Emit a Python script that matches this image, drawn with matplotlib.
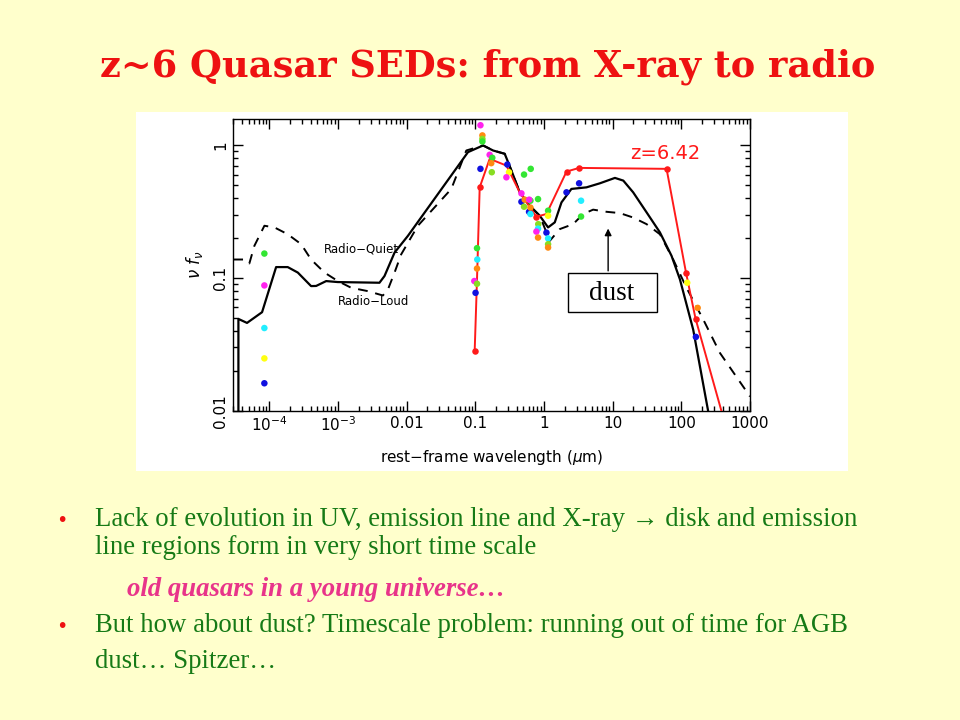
import numpy as np
import matplotlib.pyplot as plt
from matplotlib.patches import Rectangle
from matplotlib.ticker import NullFormatter

# Template SEDs (rest-frame wavelength in micron, nu f_nu)
solid_wave = [3.56e-5, 3.56e-5, 4.75e-5, 7.87e-5, 1.26e-4, 1.86e-4, 2.61e-4, 4.07e-4,
              4.82e-4, 6.75e-4, 9.97e-4, 4.03e-3, 4.77e-3, 6.68e-3, 0.01045, 0.0783,
              0.130, 0.1815, 0.2685, 0.336, 0.444, 0.621, 0.869, 1.149, 1.437, 1.80,
              2.51, 4.16, 6.51, 10.8, 14.3, 19.9, 31.2, 48.8, 72.1, 95.5, 149, 247]
solid_flux = [0.0098, 0.0492, 0.0459, 0.0553, 0.121, 0.121, 0.110, 0.0870,
              0.0872, 0.0949, 0.0933, 0.0922, 0.1036, 0.1556, 0.208, 0.890,
              1.0, 0.916, 0.865, 0.647, 0.443, 0.351, 0.295, 0.241, 0.263, 0.372,
              0.470, 0.483, 0.518, 0.569, 0.543, 0.443, 0.313, 0.221, 0.147, 0.0977, 0.0408, 0.0098]

dash_wave = [3.0e-5, 4.50e-5, 5.14e-5, 6.08e-5, 8.51e-5, 1.19e-4, 1.86e-4, 2.92e-4,
             4.07e-4, 6.38e-4, 1.0e-3, 1.56e-3, 2.73e-3, 4.52e-3, 5.35e-3, 6.68e-3,
             8.35e-3, 0.0146, 0.0448, 0.0741, 0.130, 0.1815, 0.2685, 0.336, 0.444,
             0.621, 0.869, 1.217, 1.70, 2.66, 3.72, 5.20, 8.15, 12.7, 19.9, 31.2,
             48.8, 76.2, 119, 209, 366, 1000]
dash_flux = [0.138, 0.138, 0.129, 0.175, 0.248, 0.241, 0.214, 0.180,
             0.138, 0.110, 0.0949, 0.0845, 0.0797, 0.0739, 0.082, 0.110,
             0.151, 0.248, 0.470, 0.916, 1.0, 0.916, 0.865, 0.647, 0.443,
             0.351, 0.295, 0.191, 0.234, 0.255, 0.304, 0.328, 0.316, 0.309, 0.286, 0.255,
             0.214, 0.138, 0.0845, 0.0486, 0.0272, 0.0128]

# z=6.42 quasar
red_wave = [0.098, 0.106, 0.116, 0.162, 0.284, 0.444, 0.776, 1.087, 2.13, 3.25, 61.0, 117, 161, 387]
red_flux = [0.0280, 0.0977, 0.483, 0.792, 0.705, 0.443, 0.290, 0.304, 0.635, 0.677, 0.666, 0.110, 0.0495, 0.0098]
red_pts_wave = [0.098, 0.116, 0.776, 2.13, 3.25, 61.0, 117, 161]
red_pts_flux = [0.0280, 0.483, 0.290, 0.635, 0.677, 0.666, 0.110, 0.0495]

# other z~6 quasars (photometry)
pts_wave = [8.5e-5, 8.5e-5, 8.5e-5, 8.5e-5, 8.5e-5,
            0.119, 0.127, 0.127, 0.127, 0.119, 0.106, 0.107, 0.106, 0.0969, 0.106, 0.101,
            0.162, 0.177, 0.171, 0.174, 0.293, 0.310, 0.284, 0.513, 0.642,
            0.470, 0.470, 0.525, 0.513, 0.636, 0.61, 0.607, 0.636, 0.636,
            0.820, 0.826, 0.82, 0.776, 0.82, 1.087, 1.149, 1.149, 1.149, 1.149, 1.149,
            2.13, 3.25, 3.47, 3.47, 122, 173, 163]
pts_flux = [0.153, 0.088, 0.042, 0.0248, 0.0161,
            1.42, 1.19, 1.12, 1.07, 0.666, 0.168, 0.138, 0.118, 0.095, 0.0906, 0.0774,
            0.850, 0.807, 0.735, 0.628, 0.718, 0.628, 0.575, 0.603, 0.666,
            0.435, 0.376, 0.390, 0.345, 0.383, 0.39, 0.316, 0.304, 0.34,
            0.394, 0.255, 0.236, 0.224, 0.202, 0.220, 0.199, 0.180, 0.170, 0.322, 0.295,
            0.443, 0.518, 0.383, 0.291, 0.0922, 0.0596, 0.036]
pts_col = ['g', 'm', 'c', 'y', 'b',
           'm', 'o', 'l', 'g', 'b', 'g', 'c', 'o', 'm', 'l', 'b',
           'm', 'g', 'o', 'l', 'b', 'y', 'm', 'g', 'g',
           'm', 'b', 'o', 'l', 'g', 'm', 'b', 'c', 'o',
           'g', 'l', 'c', 'm', 'o', 'b', 'c', 'l', 'o', 'g', 'y',
           'b', 'b', 'c', 'g', 'y', 'o', 'b']
palette = {'g': '#33e633', 'm': '#ff22ee', 'c': '#22eeff', 'y': '#ffff11',
           'b': '#1010e0', 'o': '#ff8a10', 'l': '#88dd22'}

xticks = [1e-4, 1e-3, 0.01, 0.1, 1, 10, 100, 1000]
xtick_labels = [r'$10^{-4}$', r'$10^{-3}$', '0.01', '0.1', '1', '10', '100', '1000']
yticks = [0.01, 0.1, 1]
ytick_labels = ['0.01', '0.1', '1']

bg = '#ffffcc'
fig = plt.figure(figsize=(9.6, 7.2), dpi=100, facecolor=bg)

# white panel behind the plot
fig.patches.append(Rectangle((136 / 960, 1 - 471 / 720), 712 / 960, 359 / 720,
                             transform=fig.transFigure, facecolor='white', edgecolor='none', zorder=-5))

fig.text(488 / 960, 1 - 67 / 720, 'z~6 Quasar SEDs: from X-ray to radio', ha='center', va='center',
         fontsize=26.5, fontweight='bold', family='DejaVu Serif', color='#ee1111')

ax = fig.add_axes([233.3 / 960, 1 - 410.7 / 720, 516.7 / 960, 291.4 / 720])
ax.set_facecolor('white')
ax.set_xscale('log')
ax.set_yscale('log')

ax.plot(solid_wave, solid_flux, color='black', lw=1.6, zorder=3)
ax.plot(dash_wave, dash_flux, color='black', lw=1.4, ls=(0, (5, 4)), zorder=3)
ax.plot(red_wave, red_flux, color='#ff1a1a', lw=1.4, zorder=4)
ax.scatter(red_pts_wave, red_pts_flux, s=22, color='#ff1a1a', zorder=5, lw=0)
ax.scatter(pts_wave, pts_flux, s=22, c=[palette[k] for k in pts_col], zorder=5, lw=0)

ax.text(57.7, 0.875, 'z=6.42', color='#ff1a1a', fontsize=14, ha='center', va='center')
ax.text(2.2e-3, 0.166, 'Radio\u2212Quiet', fontsize=8.5, ha='center', va='center')
ax.text(3.3e-3, 0.067, 'Radio\u2212Loud', fontsize=8.5, ha='center', va='center')

# dust label and arrow
ax.annotate('', xy=(8.6, 0.248), xytext=(8.6, 0.108),
            arrowprops=dict(arrowstyle='-|>', color='black', lw=1.0, mutation_scale=10), zorder=6)
fig.patches.append(Rectangle((568 / 960, 1 - 312 / 720), 89 / 960, 39 / 720, transform=fig.transFigure,
                             facecolor='white', edgecolor='black', lw=1.0, zorder=5))
fig.text(612 / 960, 1 - 293 / 720, 'dust', ha='center', va='center', fontsize=19.5,
         family='Liberation Serif', zorder=6)

# ticks: majors labelled, minors at 2..9 of each decade
ax.set_xticks(xticks, xtick_labels)
ax.set_yticks(yticks, ytick_labels)
decades = 10.0 ** np.arange(-5, 3)
minor = (decades[:, None] * np.arange(2, 10)[None, :]).ravel()
ax.set_xticks(minor, minor=True)
ax.set_yticks(minor, minor=True)
ax.xaxis.set_minor_formatter(NullFormatter())
ax.yaxis.set_minor_formatter(NullFormatter())
ax.set_xlim(3.0e-5, 1000)
ax.set_ylim(0.01, 1.574)
ax.tick_params(which='both', direction='in', top=True, right=True, width=1.0, labelsize=11)
ax.tick_params(which='major', length=7)
ax.tick_params(which='minor', length=3.5)
for lab in ax.get_yticklabels():
    lab.set_rotation(90)
    lab.set_va('center')
for sp in ax.spines.values():
    sp.set_linewidth(1.0)

ax.set_xlabel(r'rest$-$frame wavelength ($\mu$m)', fontsize=11, labelpad=10)
ax.set_ylabel(r'$\nu\ f_\nu$', fontsize=12, labelpad=6)

# bullet text
green = '#167a16'
fig.text(62 / 960, 1 - 520 / 720, '\u2022', color='#ee1111', fontsize=14, ha='center', va='center')
fig.text(62 / 960, 1 - 626 / 720, '\u2022', color='#ee1111', fontsize=14, ha='center', va='center')
tkw = dict(fontsize=19.3, family='Liberation Serif', ha='left', va='center')
fig.text(95 / 960, 1 - 520 / 720, 'Lack of evolution in UV, emission line and X-ray \u2192 disk and emission',
         color=green, **tkw)
fig.text(95 / 960, 1 - 548 / 720, 'line regions form in very short time scale', color=green, **tkw)
fig.text(127 / 960, 1 - 590 / 720, 'old quasars in a young universe\u2026', color='#e8348a',
         style='italic', fontweight='bold', **tkw)
fig.text(95 / 960, 1 - 626 / 720, 'But how about dust? Timescale problem: running out of time for AGB',
         color=green, **tkw)
fig.text(95 / 960, 1 - 662 / 720, 'dust\u2026 Spitzer\u2026', color=green, **tkw)

fig.savefig('out.png', dpi=100, facecolor=bg)
